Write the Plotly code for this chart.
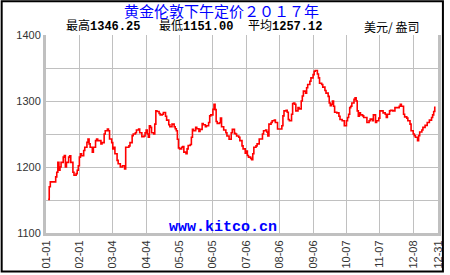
import plotly.graph_objects as go
import pandas as pd

# ---- data ----
day_of_year = [2, 3, 4, 8, 9, 10, 11, 12, 13, 14, 16, 17, 18, 19, 21, 22, 23, 25, 26, 28, 29, 30,
               31, 32, 33, 35, 36, 38, 39, 40, 41, 43, 44, 46, 47, 48, 51, 52, 54, 55, 57, 58, 59,
               61, 62, 63, 64, 66, 67, 69, 71, 73, 74, 77, 78, 80, 81, 83, 84, 86, 87, 89, 91, 92,
               93, 94, 95, 96, 97, 98, 100, 101, 102, 103, 105, 106, 108, 109, 111, 112, 114, 115,
               117, 119, 120, 121, 122, 123, 124, 126, 127, 128, 130, 131, 132, 134, 135, 136, 137,
               139, 140, 142, 143, 145, 146, 148, 149, 151, 152, 153, 155, 156, 157, 158, 159, 161,
               162, 163, 164, 165, 167, 168, 170, 171, 172, 173, 175, 176, 177, 179, 180, 182, 183,
               185, 186, 187, 188, 190, 191, 192, 193, 195, 196, 198, 199, 201, 202, 204, 205, 206,
               207, 209, 210, 212, 213, 215, 216, 218, 219, 220, 221, 223, 224, 225, 226, 228, 229,
               230, 231, 232, 234, 235, 237, 238, 239, 241, 242, 243, 245, 246, 248, 249, 250, 252,
               253, 254, 256, 257, 259, 260, 262, 263, 264, 265, 266, 267, 268, 270, 272, 273, 275,
               276, 277, 279, 280, 281, 282, 283, 284, 286, 287, 288, 289, 290, 291, 292, 294, 295,
               297, 298, 300, 301, 303, 304, 306, 307, 309, 310, 312, 313, 315, 316, 317, 319, 320,
               322, 324, 326, 328, 329, 330, 332, 333, 335, 336, 338, 339, 341, 342, 343, 345, 346,
               347, 349, 350, 352, 354, 356, 358, 359, 360, 361]
price_usd = [1151.0, 1170, 1177.5, 1177.5, 1185, 1192, 1207, 1195, 1200, 1207, 1215, 1217.5, 1200,
             1207, 1215, 1217, 1207, 1192, 1187.5, 1190, 1195, 1202,
             1215, 1220, 1217, 1225, 1230, 1237.5, 1242.5, 1235, 1230, 1222.5, 1230, 1240, 1242.5,
             1240, 1235, 1237, 1250, 1255, 1257.5, 1255, 1242.5,
             1237, 1227.5, 1230, 1220, 1210, 1205, 1200, 1202, 1197, 1230, 1232, 1237, 1247.5,
             1250, 1252, 1256, 1257.5, 1252, 1246, 1247, 1252,
             1256, 1250, 1245, 1262.5, 1260, 1252, 1250, 1265, 1285, 1284, 1281, 1279, 1280,
             1282.5, 1277, 1271, 1264, 1261,
             1265, 1261, 1258, 1255, 1242, 1229, 1227.5, 1230, 1231, 1222.5, 1220, 1227.5, 1232.5,
             1234, 1245, 1257, 1255,
             1260, 1258, 1254, 1257, 1266, 1264, 1261, 1262.5, 1267.5, 1277.5, 1279, 1287.5, 1295,
             1287, 1269, 1266, 1267,
             1274, 1261, 1261, 1256, 1252, 1247, 1242, 1242, 1252, 1257, 1251, 1250, 1247, 1245,
             1240, 1232, 1227.5,
             1221, 1224, 1217.5, 1215, 1213, 1211, 1220, 1230, 1232, 1235, 1242.5, 1242.5, 1250,
             1255, 1256, 1253, 1247,
             1265, 1267.5, 1270, 1271, 1267.5, 1257.5, 1257.5, 1257.5, 1262.5, 1277.5, 1285, 1286,
             1283, 1272, 1270, 1280, 1296,
             1297, 1295, 1285, 1290, 1288, 1300, 1307.5, 1315, 1312, 1320, 1325, 1330, 1335, 1340,
             1345, 1346.25, 1341,
             1335, 1327, 1325, 1321, 1316, 1312, 1307, 1297, 1293, 1295, 1300, 1292, 1283, 1282,
             1277, 1272, 1270,
             1270, 1262.5, 1270, 1275, 1280, 1290, 1292, 1297, 1302.5, 1305, 1300, 1285, 1277,
             1282, 1279, 1277.5, 1275,
             1275, 1267.5, 1270, 1272.5, 1270, 1279, 1267.5, 1270, 1274, 1285, 1285, 1282, 1280,
             1275, 1280, 1285, 1286,
             1285, 1290, 1290, 1292, 1295, 1292, 1280, 1276, 1274, 1270, 1265, 1255, 1250, 1247.5,
             1245, 1240, 1247.5,
             1253, 1256, 1260, 1263, 1267.5, 1271, 1275, 1279, 1284, 1291.5]

tick_dates = ["2017-01-01", "2017-02-01", "2017-03-04", "2017-04-04", "2017-05-05", "2017-06-05",
              "2017-07-06", "2017-08-06", "2017-09-06", "2017-10-07", "2017-11-07", "2017-12-08",
              "2017-12-31"]
tick_labels = ["01-01", "02-01", "03-04", "04-04", "05-05", "06-05", "07-06", "08-06", "09-06",
               "10-07", "11-07", "12-08", "12-31"]
y_ticks = [1100, 1150, 1200, 1250, 1300, 1350, 1400]
y_labels = ["1100", "", "1200", "", "1300", "", "1400"]

title_text = "黄金伦敦下午定价２０１７年"
stat_groups = [("最高", "1346.25"), ("最低", "1151.00"), ("平均", "1257.12")]
unit_text = "美元/ 盎司"
watermark = "www.kitco.cn"

dates = pd.Timestamp("2017-01-01") + pd.to_timedelta(day_of_year, unit="D")

fig = go.Figure()
fig.add_trace(go.Scatter(x=dates, y=price_usd, mode="lines",
                         line=dict(color="#ff0000", width=1.6, shape="hv"),
                         hoverinfo="skip", showlegend=False))

L, R, T, B = 46, 6, 35, 40
W, H = 450, 275
pw, ph = W - L - R, H - T - B

def px(x):
    return (x - L) / pw

def py(y):
    return (H - B - y) / ph

grid = "#c0c0c0"
fig.update_layout(
    width=W, height=H,
    margin=dict(l=L, r=R, t=T, b=B),
    paper_bgcolor="white", plot_bgcolor="white",
    showlegend=False,
    xaxis=dict(type="date", range=["2017-01-01", "2017-12-31"],
               tickmode="array", tickvals=tick_dates, ticktext=tick_labels,
               tickangle=-90, showgrid=True, gridcolor=grid, gridwidth=1,
               showline=True, linecolor=grid, linewidth=3, ticks="",
               tickfont=dict(family="Liberation Sans", size=11, color="#333333"),
               zeroline=False, fixedrange=True),
    yaxis=dict(range=[1100, 1400], tickmode="array", tickvals=y_ticks, ticktext=y_labels,
               showgrid=True, gridcolor=grid, gridwidth=1,
               showline=True, mirror=True, linecolor=grid, linewidth=3, ticks="",
               tickfont=dict(family="Liberation Sans", size=11, color="#333333"),
               zeroline=False, fixedrange=True),
)

ann = [dict(text=title_text, x=px(224), y=py(10), xref="paper", yref="paper",
            xanchor="center", yanchor="middle", showarrow=False, borderpad=0,
            font=dict(family="Noto Sans CJK SC", size=15, color="#0000ff"))]
for (lab, val), x0 in zip(stat_groups, [65, 160, 250]):
    ann.append(dict(text=f"{lab}<b>{val}</b>", x=px(x0), y=py(26), xref="paper", yref="paper",
                    xanchor="left", yanchor="middle", showarrow=False, borderpad=0,
                    font=dict(family="Liberation Mono, Noto Sans CJK SC", size=12, color="#000000")))
ann.append(dict(text=unit_text, x=px(368), y=py(26), xref="paper", yref="paper",
                xanchor="left", yanchor="middle", showarrow=False, borderpad=0,
                font=dict(family="Noto Sans CJK SC", size=12, color="#000000")))
ann.append(dict(text=f"<b>{watermark}</b>", x=px(225.5), y=py(229), xref="paper", yref="paper",
                xanchor="center", yanchor="middle", showarrow=False, borderpad=0,
                font=dict(family="Liberation Mono", size=15, color="#0000ff")))
fig.update_layout(annotations=ann)

fig.add_shape(type="rect", xref="paper", yref="paper",
              x0=px(1), x1=px(W - 1), y0=py(H - 1), y1=py(1),
              line=dict(color="black", width=2), fillcolor="rgba(0,0,0,0)", layer="above")

fig.write_html("out.html")
